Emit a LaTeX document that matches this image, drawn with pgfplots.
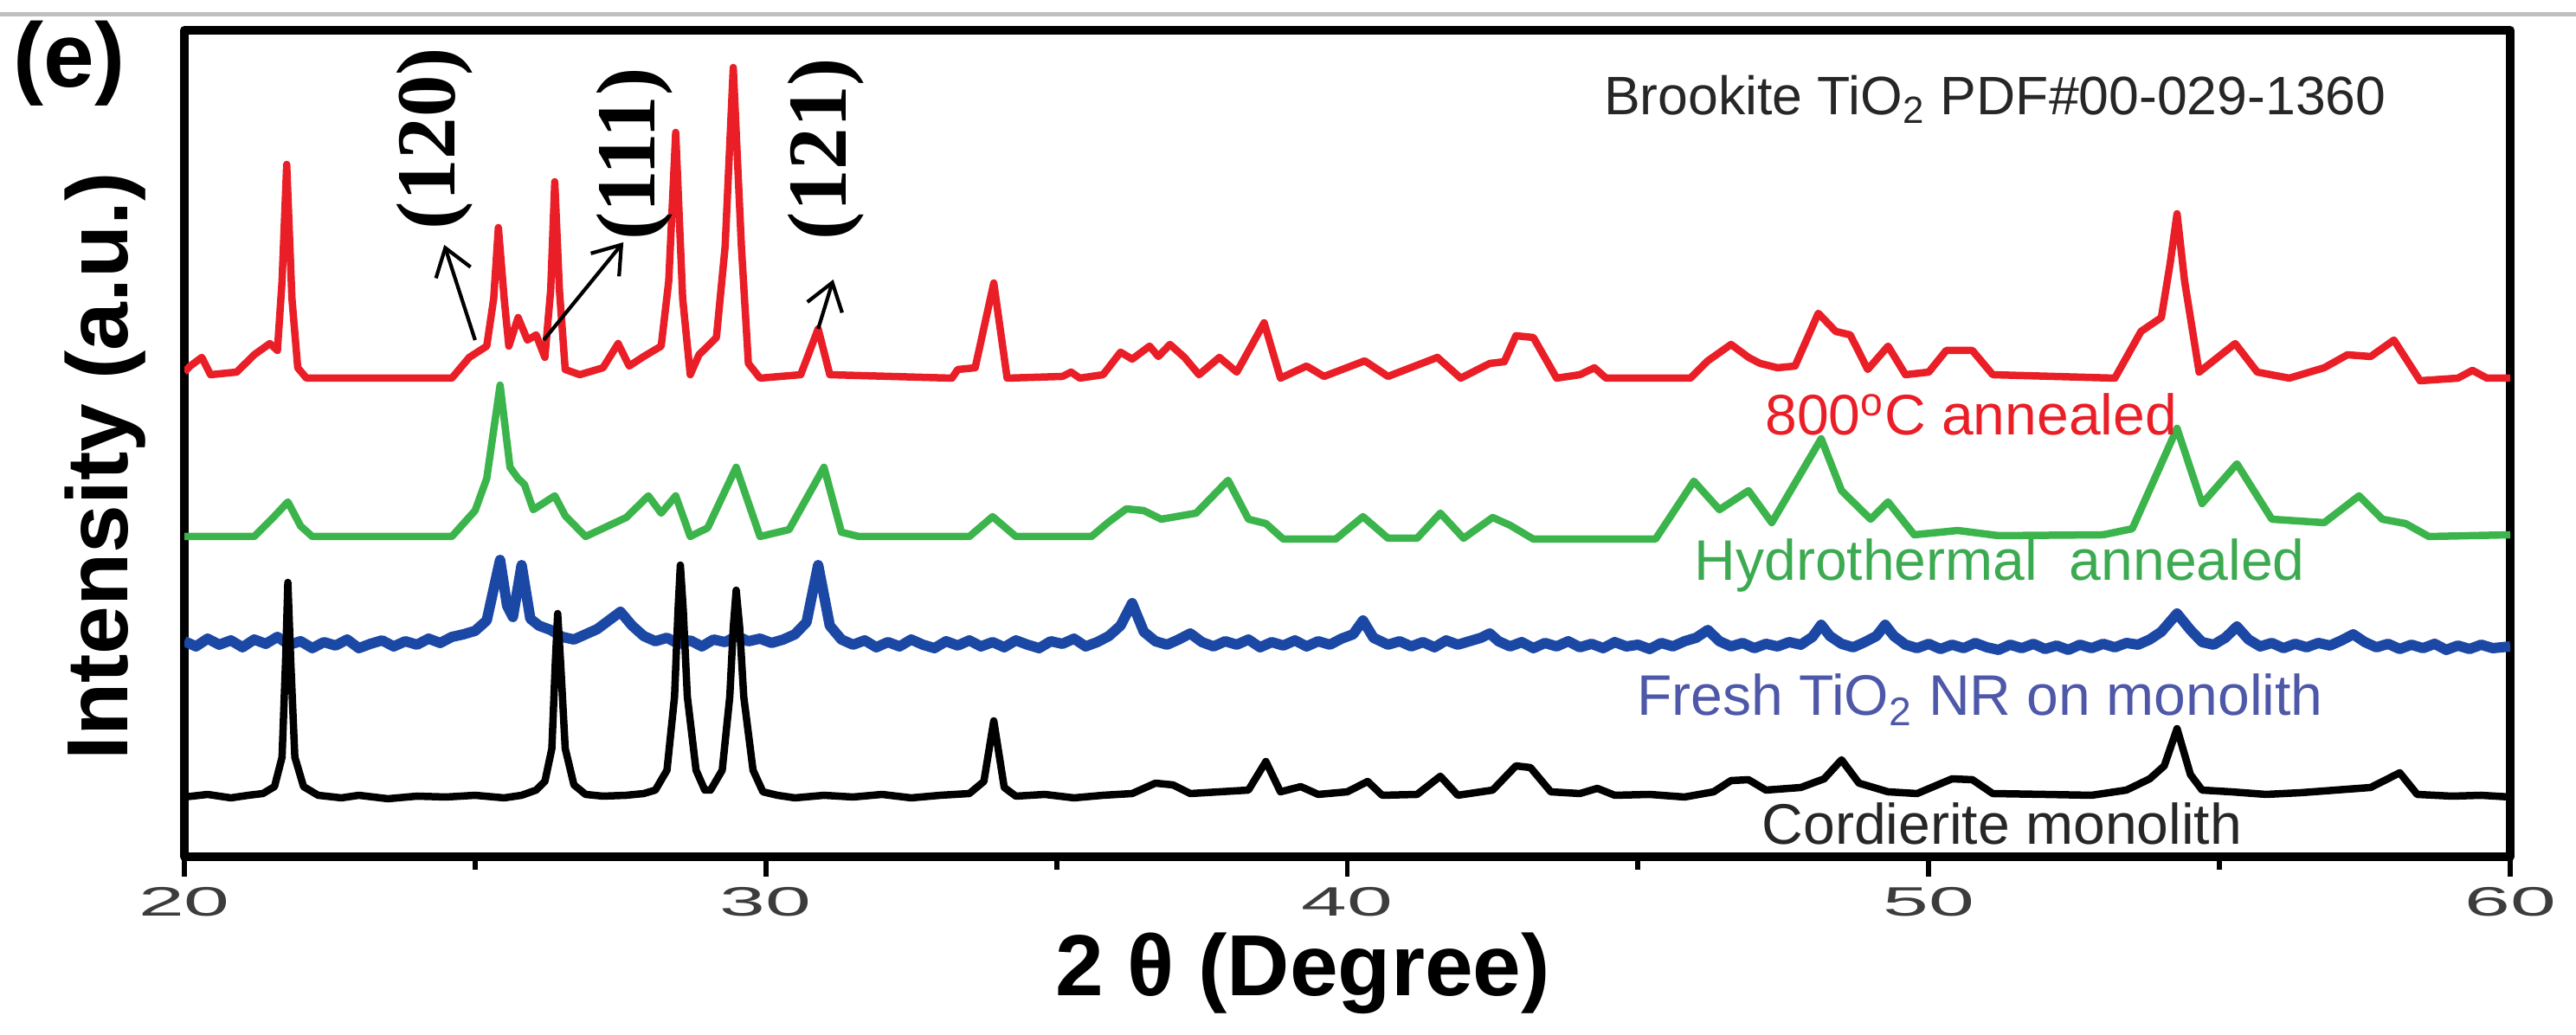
\documentclass[border=0pt]{standalone}
\usepackage{fontspec}
\setmainfont{Liberation Sans}
\newfontfamily\timesfont{Liberation Serif}
\usepackage{graphicx}
\usepackage{pgfplots}
\pgfplotsset{compat=1.18}
\usetikzlibrary{arrows.meta}

\definecolor{cred}{RGB}{234,30,38}
\definecolor{cgreen}{RGB}{60,180,76}
\definecolor{cblue}{RGB}{28,72,165}
\definecolor{tblue}{RGB}{78,88,168}
\definecolor{tgreen}{RGB}{60,170,80}
\definecolor{tickgray}{RGB}{60,60,60}
\newcommand\fs[1]{\fontsize{#1}{#1}\selectfont}
\newcommand\tl[1]{\scalebox{2.0}[1]{#1}}

\begin{document}
\begin{tikzpicture}
\useasboundingbox (-2.13,-2.06) rectangle (27.63,9.90);
\draw[black!25, line width=0.05cm] (-2.13,9.73) -- (27.63,9.73);
\begin{axis}[
    at={(0,0)}, anchor=south west,
    width=26.87cm, height=9.55cm, scale only axis,
    xmin=20, xmax=60, ymin=-5, ymax=950,
    xtick={20,30,40,50,60},
    xticklabels={\tl{20},\tl{30},\tl{40},\tl{50},\tl{60}},
    minor x tick num=1,
    ytick=\empty,
    xtick pos=lower,
    tick align=outside,
    major tick length=0.23cm,
    minor tick length=0.15cm,
    every tick/.style={black, line width=1.7pt},
    xticklabel style={font=\fs{13.5pt}, text=tickgray},
    axis line style={line width=0.1cm},
    line join=round,
]
% 800 C annealed
\addplot[cred, line width=0.085cm] coordinates {
(20.0,555) (20.1,562) (20.3,572) (20.45,552) (20.9,555) (21.2,575) (21.47,588)
(21.6,580) (21.68,660) (21.76,795) (21.85,640) (21.95,560) (22.1,548) (24.6,548)
(24.9,572) (25.2,585) (25.32,640) (25.4,722) (25.5,640) (25.58,585) (25.74,618)
(25.9,592) (26.05,598) (26.2,572) (26.3,650) (26.37,775) (26.45,650) (26.55,558)
(26.8,552) (27.2,560) (27.46,588) (27.65,562) (27.9,573) (28.2,585) (28.33,660)
(28.45,832) (28.57,640) (28.7,552) (28.85,575) (29.15,595) (29.3,700) (29.44,907)
(29.58,700) (29.7,565) (29.9,548) (30.6,552) (30.9,605) (31.1,552) (33.2,548)
(33.3,558) (33.6,560) (33.92,658) (34.15,548) (35.1,550) (35.25,555) (35.4,548)
(35.8,552) (36.1,578) (36.3,570) (36.6,585) (36.75,573) (36.95,587) (37.2,572)
(37.45,552) (37.8,572) (38.1,555) (38.57,612) (38.85,548) (39.3,562) (39.6,550)
(40.3,568) (40.7,550) (41.55,572) (41.95,548) (42.45,565) (42.7,567) (42.9,597)
(43.2,595) (43.6,548) (44.0,552) (44.25,560) (44.45,548) (45.9,548) (46.2,568)
(46.6,587) (46.9,572) (47.1,565) (47.4,560) (47.7,562) (48.1,623) (48.4,602)
(48.65,598) (48.95,558) (49.3,585) (49.6,552) (50.0,555) (50.3,580) (50.75,580)
(51.1,552) (53.2,548) (53.65,602) (54.0,618) (54.15,680) (54.27,738) (54.4,660)
(54.65,555) (55.27,588) (55.65,555) (56.2,548) (56.8,560) (57.2,575) (57.6,573)
(58.0,592) (58.45,545) (59.1,548) (59.35,557) (59.6,548) (60.0,548)
};
% Hydrothermal annealed
\addplot[cgreen, line width=0.085cm] coordinates {
(20.0,365) (21.2,365) (21.5,385) (21.78,405) (22.0,377) (22.2,365) (24.6,365)
(25.0,395) (25.2,432) (25.43,540) (25.6,445) (25.74,432) (25.85,425) (26.0,396)
(26.37,412) (26.55,389) (26.9,365) (27.6,387) (27.98,412) (28.2,392) (28.45,412)
(28.7,365) (29.0,375) (29.49,445) (29.9,365) (30.4,373) (31.0,445) (31.3,370)
(31.6,365) (33.5,365) (33.9,388) (34.3,365) (35.6,365) (35.9,382) (36.2,397)
(36.5,395) (36.8,385) (37.4,392) (37.95,430) (38.3,385) (38.6,380) (38.9,362)
(39.8,362) (40.27,388) (40.7,363) (41.2,363) (41.6,392) (42.0,363) (42.5,387)
(42.8,378) (43.2,362) (45.3,362) (45.96,429) (46.4,396) (46.9,418) (47.3,381)
(48.15,478) (48.5,418) (49.0,385) (49.3,405) (49.75,367) (50.5,372) (51.2,366)
(53.0,367) (53.5,374) (54.27,490) (54.7,403) (55.3,449) (55.9,385) (56.8,381)
(57.4,412) (57.8,385) (58.2,380) (58.6,365) (60.0,367)
};
% Fresh TiO2 NR on monolith
\addplot[cblue, line width=0.12cm] coordinates {
(20.0,244) (20.2,238) (20.4,247) (20.6,240) (20.8,245) (21.0,237) (21.2,246)
(21.4,241) (21.6,249) (21.8,240) (22.0,244) (22.2,236) (22.4,243) (22.6,239)
(22.8,246) (23.0,236) (23.2,241) (23.4,245) (23.6,238) (23.8,244) (24.0,240)
(24.2,247) (24.4,242) (24.6,249) (24.8,252) (25.0,256) (25.2,268) (25.43,338)
(25.55,285) (25.65,272) (25.8,332) (25.95,270) (26.1,262) (26.3,257) (26.5,249)
(26.7,246) (26.9,252) (27.1,258) (27.3,268) (27.5,278) (27.7,262) (27.9,250)
(28.1,244) (28.3,248) (28.5,241) (28.7,245) (28.9,238) (29.1,246) (29.3,243)
(29.5,250) (29.7,244) (29.9,247) (30.1,242) (30.3,246) (30.5,252) (30.7,266)
(30.9,332) (31.1,262) (31.3,246) (31.5,240) (31.7,245) (31.9,237) (32.1,243)
(32.3,238) (32.5,246) (32.7,240) (32.9,236) (33.1,244) (33.3,239) (33.5,245)
(33.7,238) (33.9,243) (34.1,237) (34.3,245) (34.5,240) (34.7,236) (34.9,244)
(35.1,241) (35.3,247) (35.5,238) (35.7,243) (35.9,250) (36.1,262) (36.3,288)
(36.5,255) (36.7,244) (36.9,240) (37.1,246) (37.3,253) (37.5,243) (37.7,238)
(37.9,244) (38.1,240) (38.3,246) (38.5,237) (38.7,243) (38.9,239) (39.1,245)
(39.3,238) (39.5,244) (39.7,240) (39.9,247) (40.1,252) (40.27,268) (40.45,248)
(40.7,240) (40.9,244) (41.1,238) (41.3,243) (41.5,237) (41.7,245) (41.9,240)
(42.1,244) (42.3,248) (42.45,253) (42.6,244) (42.8,238) (43.0,243) (43.2,236)
(43.4,242) (43.6,238) (43.8,244) (44.0,237) (44.2,241) (44.4,236) (44.6,243)
(44.8,238) (45.0,240) (45.2,235) (45.4,242) (45.6,238) (45.8,244) (46.0,248)
(46.2,257) (46.4,244) (46.6,238) (46.8,242) (47.0,236) (47.2,241) (47.4,238)
(47.6,243) (47.8,240) (48.0,249) (48.15,263) (48.3,250) (48.5,241) (48.7,237)
(48.9,243) (49.1,250) (49.25,263) (49.4,250) (49.6,240) (49.8,236) (50.0,241)
(50.2,235) (50.4,240) (50.6,236) (50.8,242) (51.0,237) (51.2,234) (51.4,240)
(51.6,236) (51.8,241) (52.0,235) (52.2,239) (52.4,234) (52.6,240) (52.8,236)
(53.0,241) (53.2,237) (53.4,242) (53.6,240) (53.8,246) (54.0,255) (54.27,276)
(54.5,257) (54.7,243) (54.9,240) (55.1,248) (55.3,261) (55.5,246) (55.7,238)
(55.9,242) (56.1,236) (56.3,241) (56.5,237) (56.7,242) (56.9,239) (57.1,245)
(57.3,252) (57.5,243) (57.7,237) (57.9,241) (58.1,235) (58.3,240) (58.5,236)
(58.7,241) (58.9,234) (59.1,239) (59.3,235) (59.5,240) (59.7,236) (60.0,238)
};
% Cordierite monolith
\addplot[black, line width=0.085cm] coordinates {
(20.0,64) (20.4,67) (20.8,63) (21.1,66) (21.35,68) (21.55,76) (21.68,110)
(21.74,220) (21.78,312) (21.83,220) (21.9,110) (22.05,76) (22.3,66) (22.7,63)
(23.0,66) (23.5,62) (24.0,65) (24.5,64) (25.0,66) (25.5,63) (25.8,66) (26.05,72)
(26.2,82) (26.32,120) (26.38,220) (26.42,276) (26.47,220) (26.55,120) (26.7,78)
(26.9,67) (27.2,65) (27.6,66) (27.9,68) (28.1,72) (28.3,95) (28.43,180)
(28.49,280) (28.53,332) (28.58,280) (28.65,180) (28.8,95) (28.95,72) (29.05,72)
(29.25,95) (29.38,180) (29.44,260) (29.49,303) (29.55,260) (29.62,180)
(29.78,95) (29.95,70) (30.2,66) (30.5,63) (31.0,66) (31.5,64) (32.0,67)
(32.5,63) (33.0,66) (33.5,68) (33.75,82) (33.92,152) (34.1,75) (34.3,65)
(34.8,67) (35.3,63) (35.8,66) (36.3,68) (36.7,80) (37.0,78) (37.3,68) (37.8,70)
(38.3,72) (38.6,105) (38.85,70) (39.2,76) (39.5,67) (40.0,70) (40.35,82)
(40.6,66) (41.2,67) (41.6,88) (41.9,66) (42.5,72) (42.9,100) (43.15,98)
(43.5,70) (44.0,68) (44.3,74) (44.6,66) (45.2,67) (45.8,64) (46.3,70) (46.6,83)
(46.9,84) (47.2,72) (47.8,75) (48.2,85) (48.5,107) (48.8,80) (49.3,70) (49.8,68)
(50.4,85) (50.75,84) (51.1,68) (52.0,67) (52.8,66) (53.4,72) (53.8,85)
(54.05,100) (54.27,143) (54.5,90) (54.7,72) (55.2,70) (55.8,67) (56.4,69)
(57.0,72) (57.6,75) (58.1,92) (58.4,67) (59.0,65) (59.5,66) (60.0,64)
};

% Miller indices and arrows
\node[rotate=90, font=\timesfont\bfseries\fs{27.6pt}] at (axis cs:24.31,825) {(120)};
\node[rotate=90, font=\timesfont\bfseries\fs{27.6pt}] at (axis cs:27.74,807) {(111)};
\node[rotate=90, font=\timesfont\bfseries\fs{27.6pt}] at (axis cs:31.04,813) {(121)};
\draw[-{Straight Barb[length=0.3cm,width=0.42cm]}, line width=1.2pt]
    (axis cs:25.0,592) -- (axis cs:24.47,702);
\draw[-{Straight Barb[length=0.3cm,width=0.42cm]}, line width=1.2pt]
    (axis cs:26.18,592) -- (axis cs:27.55,705);
\draw[-{Straight Barb[length=0.3cm,width=0.42cm]}, line width=1.2pt]
    (axis cs:30.9,605) -- (axis cs:31.16,662);

% series names
\node[anchor=base west, font=\fs{17.8pt}, text=black!85] at (axis cs:44.23,852)
    {Brookite TiO\textsubscript{2} PDF\#00-029-1360};
\node[anchor=base, font=\fs{18.8pt}, text=cred] at (axis cs:50.73,482)
    {800\textsuperscript{o}C annealed};
\node[anchor=base, font=\fs{18.8pt}, text=tgreen] at (axis cs:51.22,314)
    {Hydrothermal\ \ annealed};
\node[anchor=base, font=\fs{18.8pt}, text=tblue] at (axis cs:50.88,158)
    {Fresh TiO\textsubscript{2} NR on monolith};
\node[anchor=base, font=\fs{18.8pt}, text=black!85] at (axis cs:51.26,9)
    {Cordierite monolith};
\end{axis}

\node[anchor=north west, inner sep=0pt, font=\bfseries\fs{30pt}] at (-1.98,9.67) {(e)};
\node[rotate=90, font=\bfseries\fs{28.5pt}] at (-0.91,4.51) {Intensity (a.u.)};
\node[anchor=base, font=\bfseries\fs{28.5pt}] at (12.92,-1.61) {2 θ (Degree)};
\end{tikzpicture}
\end{document}
